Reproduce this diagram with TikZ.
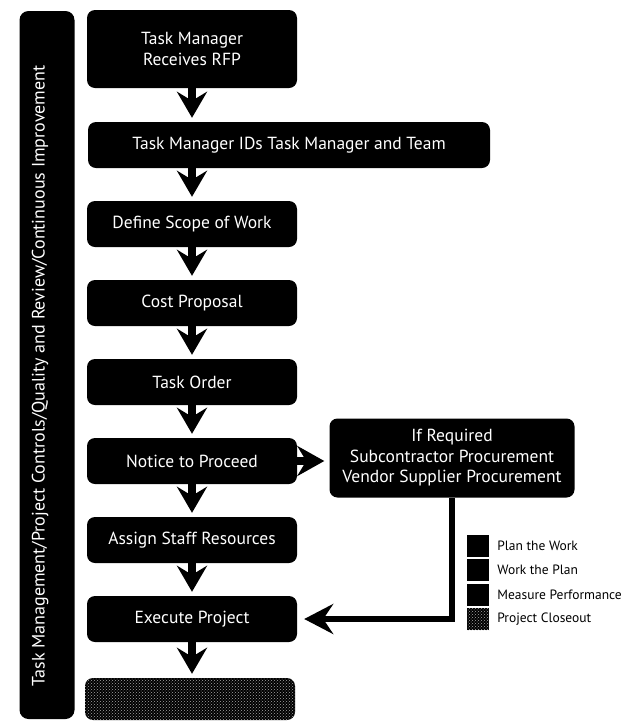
\documentclass[tikz,border=0pt]{standalone}
\usepackage{fontspec}
\setmainfont{PT Sans}
\usetikzlibrary{arrows.meta,positioning,patterns}

\begin{document}
\begin{tikzpicture}[x=1pt, y=-1pt,
  stepbox/.style={fill=black, rounded corners=8pt, text=white, minimum width=210pt, minimum height=46pt, inner sep=0pt, align=center, font=\fontsize{17.5}{21}\selectfont},
  speckle/.style={preaction={fill=black}, pattern=crosshatch dots, pattern color=black!35},
  downarrow/.style={line width=8pt, shorten >=4pt, -{Stealth[length=26pt, width=30pt, inset=9pt]}},
  keybox/.style={fill=black, minimum size=22pt, inner sep=0pt},
  keylabel/.style={inner sep=0pt, font=\fontsize{13.5}{15}\selectfont}]
  \useasboundingbox (0,0) rectangle (634,721);
  % side bar
  \node[fill=black, rounded corners=9pt, minimum width=55pt, minimum height=708pt, inner sep=0pt] (qa) at (47,365) {};
  \node[text=white, rotate=90, inner sep=0pt, font=\fontsize{18}{21}\selectfont] (qalabel) at (40,376) {Task Management/Project Controls/Quality and Review/Continuous Improvement};
  % main flow
  \node[stepbox, minimum height=78pt] (rfp) at (192,49) {Task Manager\\Receives RFP};
  \node[stepbox, minimum width=402pt] (team) at (289,145) {Task Manager IDs Task Manager and Team};
  \foreach \n/\y/\txt in {scope/224/Define Scope of Work, cost/303/Cost Proposal, order/382/Task Order, notice/461/Notice to Proceed, staff/540/Assign Staff Resources, execute/619/Execute Project}
    \node[stepbox] (\n) at (192,\y) {\txt};
  \node[stepbox, speckle, minimum height=42pt] (closeout) at (190,699) {};
  \foreach \a/\b in {rfp/team, team/scope, scope/cost, cost/order, order/notice, notice/staff, staff/execute, execute/closeout}
    \draw[downarrow] (\a.south -| rfp.south) -- (\b.north -| rfp.north);
  % procurement branch
  \node[stepbox, minimum width=245pt, minimum height=79pt, font=\fontsize{17.5}{20.5}\selectfont] (procure) at (452,458) {If Required\\Subcontractor Procurement\\Vendor Supplier Procurement};
  \draw[line width=8pt, shorten >=5pt, -{Stealth[length=27pt, width=30pt, inset=9pt]}] (notice.east) -- (notice.east -| procure.west);
  \draw[line width=6pt, shorten >=7pt, -{Stealth[length=29pt, width=30pt, inset=10pt]}] (procure.south) |- (execute.east);
  % legend
  \foreach \i/\y/\txt in {1/546/Plan the Work, 2/570/Work the Plan, 3/595/Measure Performance} {
    \node[keybox] (key\i) at (478,\y) {};
    \node[keylabel, right=8pt of key\i] (keytext\i) {\txt};
  }
  \node[keybox, speckle] (key4) at (478,619) {};
  \node[keylabel, right=8pt of key4] (keytext4) {Project Closeout};
\end{tikzpicture}
\end{document}
